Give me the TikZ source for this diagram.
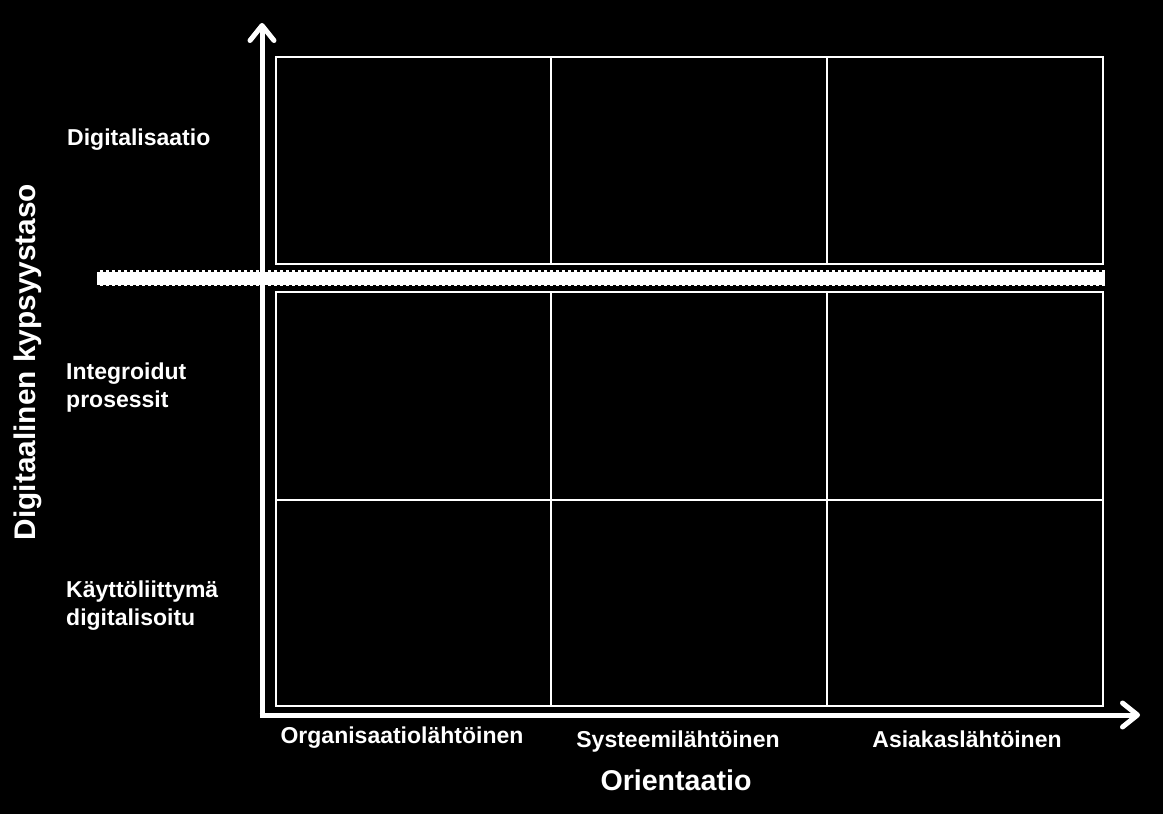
\documentclass[tikz,border=0pt]{standalone}
\usepackage{fontspec}
\setmainfont{Liberation Sans}
\usetikzlibrary{arrows.meta}
\begin{document}
\begin{tikzpicture}[x=1pt,y=-1pt,
  grid/.style={draw=white,line width=2pt},
  axis/.style={white,line width=5pt,-{Straight Barb[length=15pt,width=24pt,line width=5pt,round]}},
  lbl/.style={text=white,font=\bfseries\fontsize{23}{28}\selectfont,inner sep=0pt},
  big/.style={text=white,font=\bfseries\fontsize{28.6}{32}\selectfont,inner sep=0pt}]
\fill[black] (0,0) rectangle (1163,814);
\useasboundingbox (0,0) rectangle (1163,814);
% grid boxes
\draw[grid] (276,57) rectangle (1103,264);
\draw[grid] (551,57) -- (551,264);
\draw[grid] (827,57) -- (827,264);
\draw[grid] (276,292) rectangle (1103,706);
\draw[grid] (551,292) -- (551,706);
\draw[grid] (827,292) -- (827,706);
\draw[grid] (276,500) -- (1103,500);
% band
\coordinate (bandL) at (97,278);
\coordinate (bandR) at (1105,278);
\draw[white,line width=16pt] (bandL) -- (bandR);
\draw[black,line width=2pt,dash pattern=on 3pt off 3pt] ([yshift=-7.5pt]bandL) -- ([yshift=-7.5pt]bandR);
\draw[black,line width=2pt,dash pattern=on 3pt off 3pt] ([yshift=7.5pt]bandL) -- ([yshift=7.5pt]bandR);
% axes
\coordinate (origin) at (262,715);
\coordinate (ytip) at (262,23);
\coordinate (xtip) at (1140,715);
\draw[axis] ([yshift=2.5pt]origin) -- (ytip);
\draw[axis] ([xshift=-2.5pt]origin) -- (xtip);
% labels
\node[lbl,anchor=base west] (dig) at (67,145) {Digitalisaatio};
\node[lbl,anchor=base west,align=left] (int) at (66,407) {Integroidut\\prosessit};
\node[lbl,anchor=base west,align=left] (kay) at (66,625) {Käyttöliittymä\\digitalisoitu};
\node[lbl,anchor=base] (org) at (402,743) {Organisaatiolähtöinen};
\node[lbl,anchor=base] (sys) at (678,747) {Systeemilähtöinen};
\node[lbl,anchor=base] (asi) at (967,747) {Asiakaslähtöinen};
\node[big,anchor=base] (ori) at (676,790) {Orientaatio};
\node[big,anchor=base,rotate=90,font=\bfseries\fontsize{29.8}{32}\selectfont] (ylab) at (35,362) {Digitaalinen kypsyystaso};
\end{tikzpicture}
\end{document}
